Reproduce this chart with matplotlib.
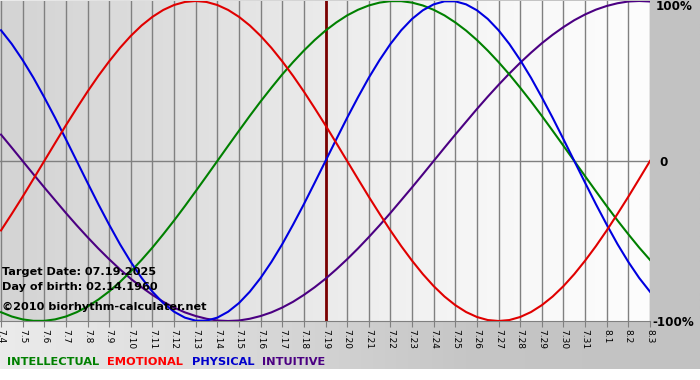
import numpy as np
import matplotlib
matplotlib.use("Agg")
import matplotlib.pyplot as plt
from matplotlib.colors import LinearSegmentedColormap

# ---- data ----
day_labels = ["7.4", "7.5", "7.6", "7.7", "7.8", "7.9", "7.10", "7.11", "7.12", "7.13",
              "7.14", "7.15", "7.16", "7.17", "7.18", "7.19", "7.20", "7.21", "7.22", "7.23",
              "7.24", "7.25", "7.26", "7.27", "7.28", "7.29", "7.30", "7.31", "8.1", "8.2", "8.3"]
# values sampled every half day, starting at 7.4
physical = [0.817, 0.731, 0.631, 0.520, 0.398, 0.270, 0.136, 0.000, -0.136, -0.270, -0.398,
            -0.520, -0.631, -0.731, -0.817, -0.888, -0.942, -0.979, -0.998, -0.998, -0.979,
            -0.942, -0.888, -0.817, -0.731, -0.631, -0.520, -0.398, -0.270, -0.136, 0.000,
            0.136, 0.270, 0.398, 0.520, 0.631, 0.731, 0.817, 0.888, 0.942, 0.979, 0.998,
            0.998, 0.979, 0.942, 0.888, 0.817, 0.731, 0.631, 0.520, 0.398, 0.270, 0.136,
            0.000, -0.136, -0.270, -0.398, -0.520, -0.631, -0.731, -0.817]
emotional = [-0.434, -0.330, -0.223, -0.112, 0.000, 0.112, 0.223, 0.330, 0.434, 0.532, 0.623,
             0.707, 0.782, 0.847, 0.901, 0.944, 0.975, 0.994, 1.000, 0.994, 0.975, 0.944,
             0.901, 0.847, 0.782, 0.707, 0.623, 0.532, 0.434, 0.330, 0.223, 0.112, 0.000,
             -0.112, -0.223, -0.330, -0.434, -0.532, -0.623, -0.707, -0.782, -0.847, -0.901,
             -0.944, -0.975, -0.994, -1.000, -0.994, -0.975, -0.944, -0.901, -0.847, -0.782,
             -0.707, -0.623, -0.532, -0.434, -0.330, -0.223, -0.112, 0.000]
intellectual = [-0.945, -0.972, -0.990, -0.999, -0.999, -0.990, -0.972, -0.945, -0.910, -0.866,
                -0.815, -0.756, -0.690, -0.618, -0.541, -0.458, -0.372, -0.282, -0.189, -0.095,
                0.000, 0.095, 0.189, 0.282, 0.372, 0.458, 0.541, 0.618, 0.690, 0.756, 0.815,
                0.866, 0.910, 0.945, 0.972, 0.990, 0.999, 0.999, 0.990, 0.972, 0.945, 0.910,
                0.866, 0.815, 0.756, 0.690, 0.618, 0.541, 0.458, 0.372, 0.282, 0.189, 0.095,
                0.000, -0.095, -0.189, -0.282, -0.372, -0.458, -0.541, -0.618]
intuitive = [0.165, 0.083, 0.000, -0.083, -0.165, -0.245, -0.325, -0.402, -0.476, -0.547,
             -0.614, -0.677, -0.736, -0.789, -0.837, -0.880, -0.916, -0.946, -0.969, -0.986,
             -0.997, -1.000, -0.997, -0.986, -0.969, -0.946, -0.916, -0.880, -0.837, -0.789,
             -0.736, -0.677, -0.614, -0.547, -0.476, -0.402, -0.325, -0.245, -0.165, -0.083,
             0.000, 0.083, 0.165, 0.245, 0.325, 0.402, 0.476, 0.547, 0.614, 0.677, 0.736,
             0.789, 0.837, 0.880, 0.916, 0.946, 0.969, 0.986, 0.997, 1.000, 0.997]
target_label = "7.19"
target_text = "Target Date: 07.19.2025"
birth_text = "Day of birth: 02.14.1960"
credit_text = "©2010 biorhythm-calculater.net"
series_names = ["INTELLECTUAL", "EMOTIONAL", "PHYSICAL", "INTUITIVE"]

W, H = 700, 380
fig = plt.figure(figsize=(W / 100, H / 100), dpi=100)
fig.patch.set_facecolor("white")

# background panel (outer gray gradient)
bg = fig.add_axes([0, 0, 1, 1])
bg.set_xlim(0, W)
bg.set_ylim(H, 0)
bg.axis("off")
outer = LinearSegmentedColormap.from_list("o", ["#ebebeb", "#dadada", "#c6c6c6", "#c2c2c2"])
grad = np.linspace(0, 1, 256).reshape(1, -1)
bg.imshow(grad, cmap=outer, aspect="auto", extent=(0, W, 369, 0), zorder=0)

# main plot area
px_left, px_right, px_top, px_bot = 0, 650, 1, 321
ax = fig.add_axes([px_left / W, (H - px_bot) / H, (px_right - px_left) / W, (px_bot - px_top) / H])
n = len(day_labels)
x = np.arange(n)
xs = np.arange(len(physical)) / 2.0
step = (px_right - 1) / (n - 1)
x0 = -1 / step
ax.set_xlim(x0, n - 1)
ax.set_ylim(-1, 1)
inner = LinearSegmentedColormap.from_list("i", ["#d4d4d4", "#dddddd", "#ebebeb", "#f7f7f7", "#fdfdfd"])
ax.imshow(grad, cmap=inner, aspect="auto", extent=(x0, n - 1, -1, 1), zorder=0)

for xi in x:
    ax.axvline(xi, color="#808080", lw=1.0, zorder=1)
ax.axhline(0, color="#808080", lw=1.0, zorder=1)

ax.axvline(day_labels.index(target_label), color="#7a0000", lw=2.0, zorder=2)

lw = 1.5
ax.plot(xs, intuitive, color="#4b0082", lw=lw, zorder=3)
ax.plot(xs, intellectual, color="#008000", lw=lw, zorder=3)
ax.plot(xs, physical, color="#0000e0", lw=lw, zorder=3)
ax.plot(xs, emotional, color="#e00000", lw=lw, zorder=3)

for s in ["top", "left", "right"]:
    ax.spines[s].set_visible(False)
ax.spines["bottom"].set_color("#808080")
ax.set_yticks([])
ax.set_xticks(x)
ax.set_xticklabels(day_labels, rotation=-90, fontsize=6.5, fontfamily="DejaVu Sans")
ax.tick_params(axis="x", length=4, color="#808080", pad=1.5)

def fxy(px, py):
    return px / W, 1 - py / H

for txt, py in [(target_text, 272), (birth_text, 287), (credit_text, 307)]:
    fig.text(*fxy(2, py), txt, fontsize=8.1, fontweight="bold", va="center", ha="left")

# right labels
fig.text(*fxy(656, 7), "100%", fontsize=8.6, fontweight="bold", va="center", ha="left")
fig.text(*fxy(659, 162), "0", fontsize=8.6, fontweight="bold", va="center", ha="left")
fig.text(*fxy(652, 322), "-100%", fontsize=8.6, fontweight="bold", va="center", ha="left")

# legend
leg_colors = ["#008000", "#ff0000", "#0000cc", "#4b0082"]
leg_x = [7, 107, 192, 262]
for name, c, lx in zip(series_names, leg_colors, leg_x):
    fig.text(*fxy(lx, 362), name, fontsize=8.2, fontweight="bold", color=c, va="center", ha="left")

fig.savefig("out.png", dpi=100)
